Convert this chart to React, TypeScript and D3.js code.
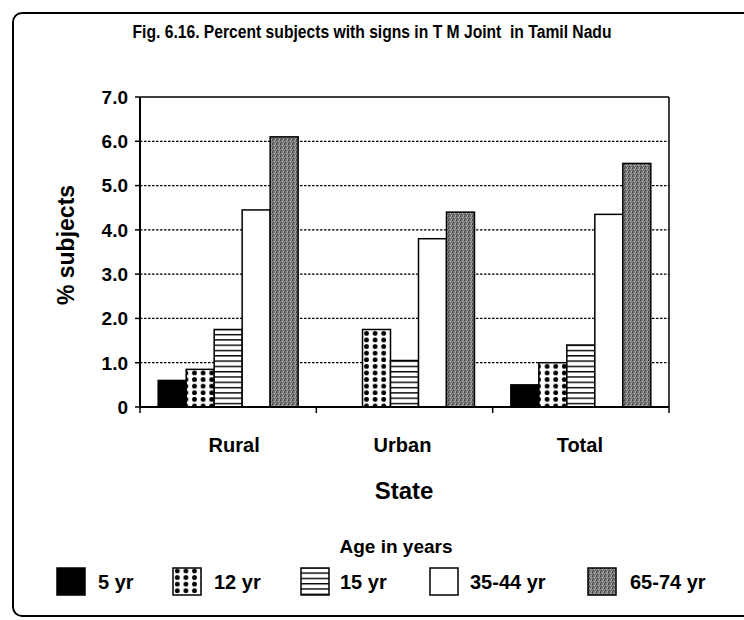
import React from "react";
import * as d3 from "d3";

const categories = ["Rural", "Urban", "Total"];
const seriesNames = ["5 yr", "12 yr", "15 yr", "35-44 yr", "65-74 yr"];
const v5 = [0.6, 0, 0.5];
const v12 = [0.85, 1.75, 1.0];
const v15 = [1.75, 1.05, 1.4];
const v3544 = [4.45, 3.8, 4.35];
const v6574 = [6.1, 4.4, 5.5];
const yTicks = [0, 1, 2, 3, 4, 5, 6, 7];
const title = "Fig. 6.16. Percent subjects with signs in T M Joint\u00A0 in Tamil Nadu";

const seriesValues = [v5, v12, v15, v3544, v6574];
const fills = ["#000", "url(#dots)", "url(#hlines)", "#fff", "url(#stipple)"];

const W = 744;
const H = 620;
const left = 140, right = 669, top = 97, bottom = 407;
const FONT = "'Liberation Sans', Arial, Helvetica, sans-serif";

export default function App() {
  const x0 = d3.scaleBand<string>().domain(categories).range([left, right]).padding(0);
  const x1 = d3.scaleBand<string>().domain(seriesNames).range([0, x0.bandwidth()]).paddingInner(0).paddingOuter(0.65);
  const y = d3.scaleLinear().domain([0, 7]).range([bottom, top]);

  const legendBoxX = [57, 173, 301, 430, 588];
  const legendTextX = [98, 214, 340, 470, 630];
  const labelShift = [6, -2, -1];

  return (
    <svg width={W} height={H} style={{ position: "absolute", left: 0, top: 0, background: "#fff" }} fontFamily={FONT}>
      <defs>
        <pattern id="dots" width={8.6} height={6.6} patternUnits="userSpaceOnUse" x={1} y={0}>
          <rect width={8.6} height={6.6} fill="#fff" />
          <circle cx={4.3} cy={3.3} r={2.4} fill="#000" />
        </pattern>
        <pattern id="hlines" width={10} height={5.3} patternUnits="userSpaceOnUse">
          <rect width={10} height={5.3} fill="#fff" />
          <rect y={0} width={10} height={1.4} fill="#000" />
        </pattern>
        <pattern id="stipple" width={4} height={4} patternUnits="userSpaceOnUse">
          <rect width={4} height={4} fill="#7c7c7c" />
          <rect x={0} y={0} width={1} height={1} fill="#3a3a3a" />
          <rect x={2} y={1} width={1} height={1} fill="#b8b8b8" />
          <rect x={1} y={2} width={1} height={1} fill="#444" />
          <rect x={3} y={3} width={1} height={1} fill="#adadad" />
          <rect x={3} y={0} width={1} height={1} fill="#999" />
          <rect x={0} y={3} width={1} height={1} fill="#555" />
          <rect x={2} y={3} width={1} height={1} fill="#666" />
        </pattern>
      </defs>

      {/* outer frame */}
      <rect x={13} y={13} width={740} height={603} rx={9} fill="none" stroke="#000" strokeWidth={2} />

      {/* title */}
      <text x={372} y={38} textAnchor="middle" fontSize={18} fontWeight="bold" textLength={479} lengthAdjust="spacingAndGlyphs" style={{ whiteSpace: "pre" }}>
        {title}
      </text>

      {/* gridlines */}
      {yTicks.filter((t) => t > 0 && t < 7).map((t) => (
        <line key={"g" + t} x1={left} x2={right} y1={y(t)} y2={y(t)} stroke="#000" strokeWidth={1.2} strokeDasharray="2.5,1.5" />
      ))}

      {/* bars */}
      {seriesValues.map((vals, si) =>
        categories.map((c, ci) => {
          const v = vals[ci];
          if (v <= 0) return null;
          const bx = (x0(c) as number) + (x1(seriesNames[si]) as number);
          return (
            <rect key={si + "-" + ci} x={bx} y={y(v)} width={x1.bandwidth()} height={y(0) - y(v)}
              fill={fills[si]} stroke="#000" strokeWidth={1.5} />
          );
        })
      )}

      {/* plot border */}
      <line x1={left} x2={right} y1={top} y2={top} stroke="#000" strokeWidth={1.5} />
      <line x1={right} x2={right} y1={top} y2={bottom} stroke="#000" strokeWidth={1.5} />
      <line x1={left} x2={left} y1={top} y2={bottom} stroke="#000" strokeWidth={2} />
      <line x1={left} x2={right} y1={bottom} y2={bottom} stroke="#000" strokeWidth={2} />

      {/* y ticks */}
      {yTicks.map((t) => (
        <g key={"t" + t}>
          <line x1={left - 5} x2={left} y1={y(t)} y2={y(t)} stroke="#000" strokeWidth={1.5} />
          <text x={128} y={y(t)} dy="0.36em" textAnchor="end" fontSize={19} fontWeight="bold">
            {t === 0 ? "0" : d3.format(".1f")(t)}
          </text>
        </g>
      ))}

      {/* x ticks at band boundaries */}
      {[...categories.map((c) => x0(c) as number), right].map((xx, i) => (
        <line key={"xt" + i} x1={xx} x2={xx} y1={bottom} y2={bottom + 6} stroke="#000" strokeWidth={1.5} />
      ))}

      {/* category labels */}
      {categories.map((c, i) => (
        <text key={c} x={(x0(c) as number) + x0.bandwidth() / 2 + labelShift[i]} y={452} textAnchor="middle" fontSize={20} fontWeight="bold">
          {c}
        </text>
      ))}

      {/* axis titles */}
      <text x={404} y={499} textAnchor="middle" fontSize={24} fontWeight="bold">State</text>
      <text transform={`translate(74,245) rotate(-90)`} textAnchor="middle" fontSize={23} fontWeight="bold">% subjects</text>

      {/* legend */}
      <text x={396} y={553} textAnchor="middle" fontSize={19} fontWeight="bold">Age in years</text>
      {seriesNames.map((s, i) => (
        <g key={s}>
          <rect x={legendBoxX[i]} y={568} width={28} height={27} fill={fills[i]} stroke="#000" strokeWidth={1.5} />
          <text x={legendTextX[i]} y={589} fontSize={20} fontWeight="bold">{s}</text>
        </g>
      ))}
    </svg>
  );
}
